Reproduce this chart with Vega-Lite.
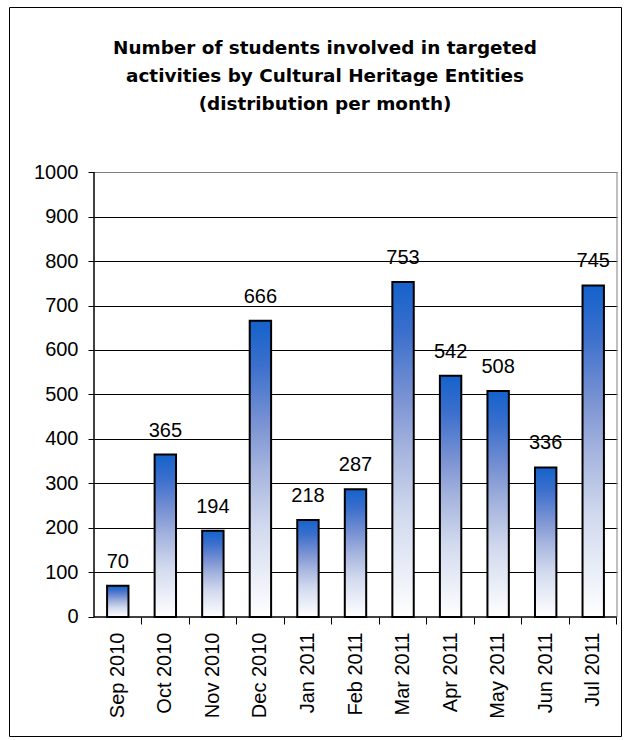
{
  "$schema": "https://vega.github.io/schema/vega-lite/v6.json",
  "width": 612,
  "height": 729,
  "autosize": "none",
  "padding": {"left": 9, "top": 7, "right": 4, "bottom": 4},
  "background": "white",
  "title": {
    "text": ["Number of students involved in targeted", "activities by Cultural Heritage Entities", "(distribution per month)"],
    "anchor": "middle",
    "frame": "group",
    "baseline": "top",
    "font": "DejaVu Sans",
    "fontSize": 18.4,
    "fontWeight": "bold",
    "lineHeight": 28,
    "color": "#000000",
    "offset": -106,
    "dx": 10
  },
  "resolve": {"scale": {"x": "independent"}, "axis": {"y": "independent", "x": "independent"}},
  "layer": [
    {
      "data": {
        "values": [
          {"month": "Sep 2010", "students": 70},
          {"month": "Oct 2010", "students": 365},
          {"month": "Nov 2010", "students": 194},
          {"month": "Dec 2010", "students": 666},
          {"month": "Jan 2011", "students": 218},
          {"month": "Feb 2011", "students": 287},
          {"month": "Mar 2011", "students": 753},
          {"month": "Apr 2011", "students": 542},
          {"month": "May 2011", "students": 508},
          {"month": "Jun 2011", "students": 336},
          {"month": "Jul 2011", "students": 745}
        ]
      },
      "encoding": {
        "x": {
          "field": "month",
          "type": "nominal",
          "sort": null,
          "scale": {"range": [85, 608], "paddingInner": 0.55, "paddingOuter": 0.275},
          "axis": {
            "title": null,
            "orient": "bottom",
            "offset": -119,
            "domain": false,
            "labelAngle": 270,
            "labelAlign": "right",
            "labelBaseline": "middle",
            "labelFont": "Liberation Sans",
            "labelFontSize": 20,
            "labelColor": "#000000",
            "labelPadding": 8,
            "bandPosition": 1.611,
            "tickSize": 7,
            "tickWidth": 1,
            "tickColor": "#000000",
            "grid": false
          }
        },
        "y": {
          "field": "students",
          "type": "quantitative",
          "scale": {"domain": [-267.42, 1370.79], "nice": false, "zero": false},
          "axis": {
            "title": null,
            "orient": "left",
            "offset": -85,
            "domain": false,
            "values": [0, 100, 200, 300, 400, 500, 600, 700, 800, 900, 1000],
            "format": "d",
            "labelFont": "Liberation Sans",
            "labelFontSize": 20,
            "labelColor": "#000000",
            "labelPadding": 10,
            "tickSize": 6,
            "tickColor": "#000000",
            "grid": false
          }
        }
      },
      "layer": [
        {
          "mark": {
            "type": "bar",
            "stroke": "#000000",
            "strokeWidth": 2,
            "color": {
              "gradient": "linear",
              "x1": 0, "y1": 0, "x2": 0, "y2": 1,
              "stops": [
                {"offset": 0, "color": "#1462cc"},
                {"offset": 0.15, "color": "#3b6fcc"},
                {"offset": 0.35, "color": "#7b93d3"},
                {"offset": 0.5, "color": "#a5b4de"},
                {"offset": 0.7, "color": "#d2daee"},
                {"offset": 1, "color": "#ffffff"}
              ]
            }
          }
        },
        {
          "mark": {
            "type": "text",
            "font": "Liberation Sans",
            "fontSize": 20,
            "color": "#000000",
            "baseline": "middle",
            "dy": -24
          },
          "encoding": {"text": {"field": "students", "type": "quantitative"}}
        }
      ]
    },
    {
      "data": {"values": [{}]},
      "encoding": {
        "y": {
          "datum": 0,
          "type": "quantitative",
          "scale": {"domain": [-267.42, 1370.79], "nice": false, "zero": false},
          "axis": {
            "title": null,
            "orient": "left",
            "offset": -85,
            "domain": false,
            "labels": false,
            "values": [100, 200, 300, 400, 500, 600, 700, 800, 900, 1000],
            "tickSize": -523,
            "tickWidth": 1,
            "tickColor": {"condition": {"test": "datum.value === 1000", "value": "#808080"}, "value": "#000000"},
            "grid": false
          }
        }
      },
      "layer": [
        {
          "mark": {"type": "rule", "color": "#000000", "strokeWidth": 1.5},
          "encoding": {
            "x": {"datum": 0, "type": "quantitative", "scale": {"domain": [-1.7878, 11.0841], "nice": false, "zero": false}, "axis": null},
            "y2": {"datum": 1000}
          }
        },
        {
          "mark": {"type": "rule", "color": "#000000", "strokeWidth": 1.5},
          "encoding": {
            "x": {"datum": 0, "type": "quantitative", "scale": {"domain": [-1.7878, 11.0841], "nice": false, "zero": false}, "axis": null},
            "x2": {"datum": 11}
          }
        },
        {
          "mark": {"type": "rule", "color": "#808080", "strokeWidth": 1},
          "encoding": {
            "x": {"datum": 11, "type": "quantitative", "scale": {"domain": [-1.7878, 11.0841], "nice": false, "zero": false}, "axis": null},
            "y2": {"datum": 1000}
          }
        }
      ]
    }
  ],
  "config": {
    "view": {"stroke": "#000000", "strokeWidth": 1}
  }
}
